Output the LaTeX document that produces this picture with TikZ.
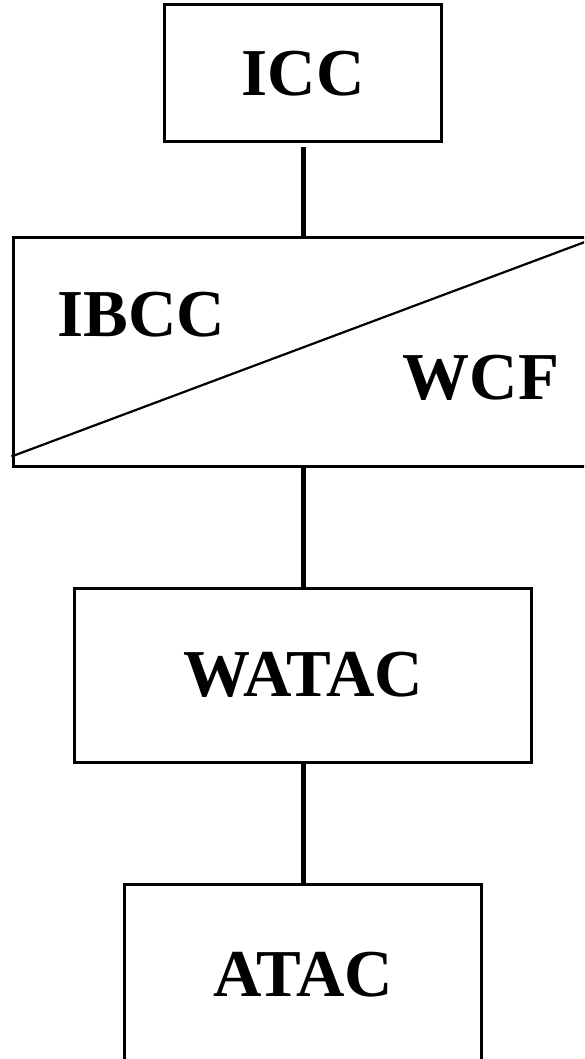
\documentclass[tikz,border=0pt]{standalone}
\usepackage{fontspec}
\setmainfont{Liberation Serif}
\usetikzlibrary{calc}
\begin{document}
\begin{tikzpicture}[x=1pt,y=-1pt,
  unit/.style={draw, line width=3pt, rectangle, inner sep=0pt,
    font=\fontsize{67}{80}\selectfont\bfseries},
  link/.style={line width=5pt},
  label/.style={inner sep=0pt, font=\fontsize{67}{80}\selectfont\bfseries}]
  % page frame
  \useasboundingbox (0,0) rectangle (584,1059);
  \clip (0,0) rectangle (584,1059);

  % boxes
  \node[unit, minimum width=276.7pt, minimum height=137pt] (icc) at (303.3,73.5) {ICC};
  \node[unit, minimum width=577pt, minimum height=228pt] (ibcc) at (301.5,352) {};
  \node[unit, minimum width=457pt, minimum height=174pt] (watac) at (303.3,675) {WATAC};
  \node[unit, minimum width=357pt, minimum height=190pt, anchor=north] (atac) at (303.3,883) {};
  \node[label] (atactext) at (303.3,975) {ATAC};

  % split of the shared IBCC / WCF box
  \draw[line width=2.2pt] ($(ibcc.south west)+(0,-11)$) -- ($(ibcc.north east)+(0,3)$);
  \node[label] (ibcctext) at (141.5,314.5) {IBCC};
  \node[label] (wcftext) at (481,378) {WCF};

  % connectors
  \draw[link] ($(icc.south)+(0,4)$) -- (icc.south |- ibcc.north);
  \draw[link] (icc.south |- ibcc.south) -- (icc.south |- watac.north);
  \draw[link] (icc.south |- watac.south) -- (icc.south |- atac.north);
\end{tikzpicture}
\end{document}
